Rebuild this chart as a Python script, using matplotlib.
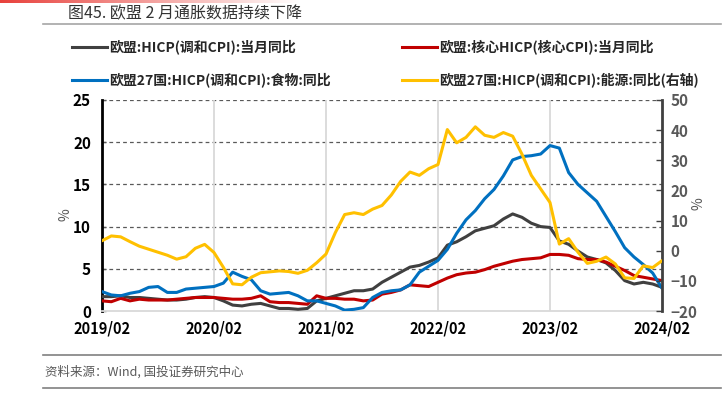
import matplotlib
matplotlib.use("Agg")
import matplotlib.pyplot as plt
from matplotlib.lines import Line2D
from matplotlib.colors import LinearSegmentedColormap
import numpy as np
import pandas as pd

plt.rcParams['font.family'] = ['Noto Sans CJK SC', 'DejaVu Sans']

# ---------------- data ----------------
months = pd.date_range('2019-02-01', '2024-02-01', freq='MS')

hicp = [1.7, 1.7, 1.8, 1.6, 1.6, 1.5, 1.4, 1.3, 1.3, 1.4, 1.6,
        1.7, 1.6, 1.2, 0.7, 0.6, 0.8, 0.9, 0.6, 0.3, 0.3, 0.2, 0.3,
        1.2, 1.5, 1.8, 2.1, 2.4, 2.4, 2.6, 3.4, 4.0, 4.6, 5.2, 5.4,
        5.8, 6.3, 7.8, 8.2, 8.8, 9.5, 9.8, 10.1, 10.9, 11.5, 11.1, 10.4,
        10.0, 9.9, 8.3, 7.9, 7.1, 6.4, 6.1, 5.7, 4.8, 3.6, 3.2, 3.4,
        3.2, 2.8]

core = [1.2, 1.1, 1.5, 1.2, 1.4, 1.3, 1.3, 1.3, 1.4, 1.5, 1.6,
        1.6, 1.6, 1.5, 1.4, 1.4, 1.5, 1.8, 1.1, 1.0, 1.0, 0.9, 0.8,
        1.8, 1.5, 1.5, 1.4, 1.4, 1.2, 1.3, 2.0, 2.2, 2.5, 3.1, 3.0,
        2.9, 3.4, 3.9, 4.3, 4.5, 4.6, 4.9, 5.3, 5.6, 5.9, 6.1, 6.2,
        6.3, 6.7, 6.7, 6.6, 6.2, 6.1, 6.1, 5.8, 5.3, 4.8, 4.2, 4.0,
        3.8, 3.6]

food = [2.3, 1.9, 1.8, 2.1, 2.3, 2.8, 2.9, 2.2, 2.2, 2.6, 2.7,
        2.8, 2.9, 3.3, 4.6, 4.1, 3.7, 2.4, 2.0, 2.1, 2.2, 1.8, 1.2,
        1.2, 0.9, 0.6, 0.1, 0.2, 0.4, 1.6, 2.2, 2.4, 2.5, 3.1, 4.6,
        5.3, 6.0, 7.3, 9.2, 10.8, 11.9, 13.3, 14.4, 16.0, 17.9, 18.3, 18.4,
        18.6, 19.6, 19.3, 16.4, 15.0, 14.0, 13.0, 11.2, 9.4, 7.5, 6.4, 5.5,
        4.5, 2.7]

energy = [3.3, 4.9, 4.6, 3.0, 1.5, 0.5, -0.5, -1.5, -2.8, -2.0, 0.8,
          2.1, -0.6, -5.5, -11.0, -11.3, -8.8, -7.3, -7.0, -6.7, -6.9, -7.5, -6.5,
          -4.0, -1.1, 6.0, 12.0, 12.6, 12.0, 13.8, 15.0, 18.5, 23.0, 26.1, 25.0,
          27.2, 28.6, 40.2, 35.8, 37.6, 41.1, 38.3, 37.6, 39.2, 38.0, 32.0, 25.0,
          20.5, 16.0, 2.2, 4.0, -0.5, -4.2, -3.5, -2.1, -4.4, -9.0, -9.2, -5.0,
          -5.6, -3.3]

labels = ['欧盟:HICP(调和CPI):当月同比',
          '欧盟:核心HICP(核心CPI):当月同比',
          '欧盟27国:HICP(调和CPI):食物:同比',
          '欧盟27国:HICP(调和CPI):能源:同比(右轴)']
colors = ['#404040', '#C00000', '#0070C0', '#FFC000']

left_ticks = [0, 5, 10, 15, 20, 25]
right_ticks = [-20, -10, 0, 10, 20, 30, 40, 50]
x_tick_labels = ['2019/02', '2020/02', '2021/02', '2022/02', '2023/02', '2024/02']

title = '图45. 欧盟 2 月通胀数据持续下降'
source = '资料来源：Wind, 国投证券研究中心'

# ---------------- figure ----------------
W, H = 724, 407
fig = plt.figure(figsize=(W / 100, H / 100), dpi=100)
fig.patch.set_facecolor('white')

def fx(px):
    return px / W

def fy(py):
    return 1 - py / H

# red fading bar at top
grad = np.linspace(1, 0, 256).reshape(1, -1)
bar_ax = fig.add_axes([0, fy(3), fx(300), 3 / H])
cmap = LinearSegmentedColormap.from_list('rb', ['#FFFFFF', '#E8413C'])
bar_ax.imshow(grad, aspect='auto', cmap=cmap, vmin=0, vmax=1)
bar_ax.axis('off')

# title + separator lines
fig.text(fx(68), fy(14), title, fontsize=11.5, color='#333333',
         va='center', ha='left')
fig.add_artist(Line2D([fx(43), fx(721)], [fy(24), fy(24)], color='#A6A6A6', lw=1.2))
fig.add_artist(Line2D([fx(43), fx(721)], [fy(355), fy(355)], color='#808080', lw=1.2))
fig.add_artist(Line2D([fx(43), fx(721)], [fy(388), fy(388)], color='#808080', lw=1.2))
fig.text(fx(45), fy(372), source, fontsize=9, color='#595959',
         va='center', ha='left', style='italic')

# main axes
ax = fig.add_axes([fx(102), fy(311), fx(560), (311 - 100) / H])
ax2 = ax.twinx()

x = np.arange(len(months))
lw = 2.2
ax.plot(x, hicp, color=colors[0], lw=lw, zorder=3, solid_capstyle='round')
ax.plot(x, core, color=colors[1], lw=lw, zorder=3, solid_capstyle='round')
ax.plot(x, food, color=colors[2], lw=lw, zorder=4, solid_capstyle='round')
ax2.plot(x, energy, color=colors[3], lw=lw, zorder=5, solid_capstyle='round')

ax.set_xlim(0, len(months) - 1)
ax.set_ylim(0, 25)
ax2.set_ylim(-20, 50)

ax.set_yticks(left_ticks)
ax2.set_yticks(right_ticks)
xt = [i for i, d in enumerate(months) if d.month == 2]
ax.set_xticks(xt)
ax.set_xticklabels(x_tick_labels)

# gridlines
for v in left_ticks[1:]:
    ax.axhline(v, color='#595959', lw=0.9, ls=(0, (3, 2.5)), zorder=1)
for t in xt[1:-1]:
    ax.axvline(t, color='#D9D9D9', lw=1.3, zorder=1)

# spines
ax.spines['top'].set_visible(False)
ax2.spines['top'].set_visible(False)
ax.spines['bottom'].set_color('#D9D9D9')
ax.spines['bottom'].set_linewidth(1.3)
ax2.spines['bottom'].set_visible(False)
ax.spines['left'].set_color('black')
ax.spines['left'].set_linewidth(2.0)
ax2.spines['left'].set_visible(False)
ax2.spines['right'].set_color('#404040')
ax2.spines['right'].set_linewidth(2.0)
ax.spines['right'].set_visible(False)

ax.tick_params(axis='y', direction='in', length=3, width=1, color='#595959',
               labelsize=11, labelcolor='black', pad=8)
ax2.tick_params(axis='y', direction='in', length=4, width=1, color='#404040',
                labelsize=11, labelcolor='#595959', pad=6)
ax.tick_params(axis='x', length=0, labelsize=10.5, labelcolor='black', pad=7)
for lab in ax.get_yticklabels() + ax.get_xticklabels():
    lab.set_fontweight('bold')
for lab in ax2.get_yticklabels():
    lab.set_fontweight('bold')

ax.set_ylabel('%', fontsize=10, color='#595959')
ax.yaxis.set_label_coords(-0.052, 0.455)
ax2.set_ylabel('%', fontsize=10, color='#595959', rotation=90)
ax2.yaxis.set_label_coords(1.052, 0.51)

# legend (manual placement to mimic the reference)
leg_items = [(72, 47, 0), (402, 47, 1), (72, 80, 2), (402, 80, 3)]
for px, py, i in leg_items:
    fig.add_artist(Line2D([fx(px), fx(px + 35)], [fy(py), fy(py)],
                          color=colors[i], lw=2.2))
    fig.text(fx(px + 37), fy(py), labels[i], fontsize=10, fontweight='bold',
             color='#262626', va='center', ha='left')

fig.savefig('out.png', dpi=100, facecolor='white')
